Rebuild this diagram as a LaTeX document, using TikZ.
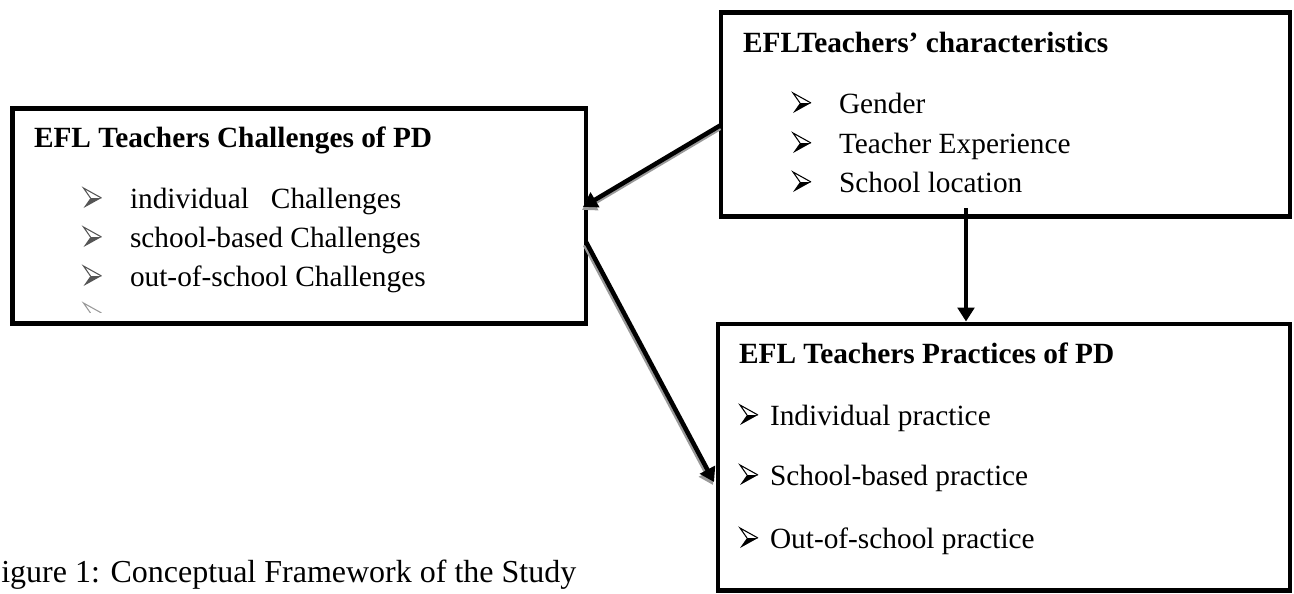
\documentclass[tikz,border=0pt]{standalone}
\usepackage{fontspec}
\setmainfont{Liberation Serif}
\usetikzlibrary{arrows.meta,calc}
\definecolor{bulletgray}{HTML}{555555}
\tikzset{
  panel/.style={draw=black, line width=3.6pt, outer sep=0pt, inner sep=0pt},
  txt/.style={anchor=base west, inner sep=0pt, outer sep=0pt, font=\fontsize{22}{26}\selectfont},
  boxtitle/.style={txt, font=\fontsize{22}{26}\selectfont\bfseries},
  flow/.style={draw=black, line width=3.4pt, -{Triangle[length=10.5pt,width=12.5pt]}},
  flowshadow/.style={flow, draw=black!40, fill=black!40,
    transform canvas={xshift=-0.75pt,yshift=-2.25pt}},
  pics/arrowhd/.style={code={
      \fill[#1] (7,-10) -- (18,-10) -- (0,0) -- cycle;
      \draw[#1, line width=0.8pt, line join=miter] (7,-10) -- (0,-20) -- (18,-10);
  }},
}
\begin{document}
\begin{tikzpicture}[x=0.75pt,y=-0.75pt]
\useasboundingbox (0,0) rectangle (1294,593);
\clip (0,0) rectangle (1294,593);

% the three framed boxes
\node[panel, minimum width=430.05pt, minimum height=161.1pt] (chal) at (299.3,215.9) {};
\node[panel, minimum width=426.75pt, minimum height=153.15pt] (chars) at (1005.5,114.6) {};
\node[panel, minimum width=429pt, minimum height=199.875pt] (prac) at (1004,457.25) {};

% challenges box
\node[boxtitle] (chalT) at (34,147) {EFL Teachers Challenges of PD};
\pic at (83.5,208) {arrowhd=bulletgray};
\pic at (83.5,247) {arrowhd=bulletgray};
\pic at (83.5,286) {arrowhd=bulletgray};
\node[txt] (chal1) at (130,208) {individual\hspace{16.5pt}Challenges};
\node[txt] (chal2) at (130,247) {school-based Challenges};
\node[txt] (chal3) at (130,286) {out-of-school Challenges};
\begin{scope}
  \clip (78,300) rectangle (110,312);
  \pic at (83.5,323) {arrowhd=bulletgray!60};
\end{scope}

% characteristics box
\node[boxtitle] (charsT) at (743,52) {EFLTeachers’ characteristics};
\pic at (793,113) {arrowhd=black};
\pic at (793,153) {arrowhd=black};
\pic at (793,192) {arrowhd=black};
\node[txt] (chars1) at (839,113) {Gender};
\node[txt] (chars2) at (839,153) {Teacher Experience};
\node[txt] (chars3) at (839,192) {School location};

% practices box
\node[boxtitle] (pracT) at (739,363) {EFL Teachers Practices of PD};
\pic at (740,425) {arrowhd=black};
\pic at (740,485) {arrowhd=black};
\pic at (740,548) {arrowhd=black};
\node[txt] (prac1) at (770,425) {Individual practice};
\node[txt] (prac2) at (770,485) {School-based practice};
\node[txt] (prac3) at (770,548) {Out-of-school practice};

% caption, running off the left edge
\node[txt, font=\fontsize{24}{28}\selectfont] (caption) at (-16.5,582) {Figure 1: Conceptual Framework of the Study};

% connectors
\draw[flowshadow] ($(chars.west)+(0,10.4)$) -- ($(chal.east)+(-3,-9)$);
\draw[flow] ($(chars.west)+(0,10.4)$) -- ($(chal.east)+(-3,-9)$);
\draw[flowshadow] ($(chal.east)+(0,26)$) -- ($(prac.west)+(-4,24.75)$);
\draw[flow] ($(chal.east)+(0,26)$) -- ($(prac.west)+(-4,24.75)$);
\draw[flow, line width=3.6pt] ($(chars.south)+(-39.5,-8.7)$) -- ($(prac.north)+(-38,-2.5)$);
\end{tikzpicture}
\end{document}
